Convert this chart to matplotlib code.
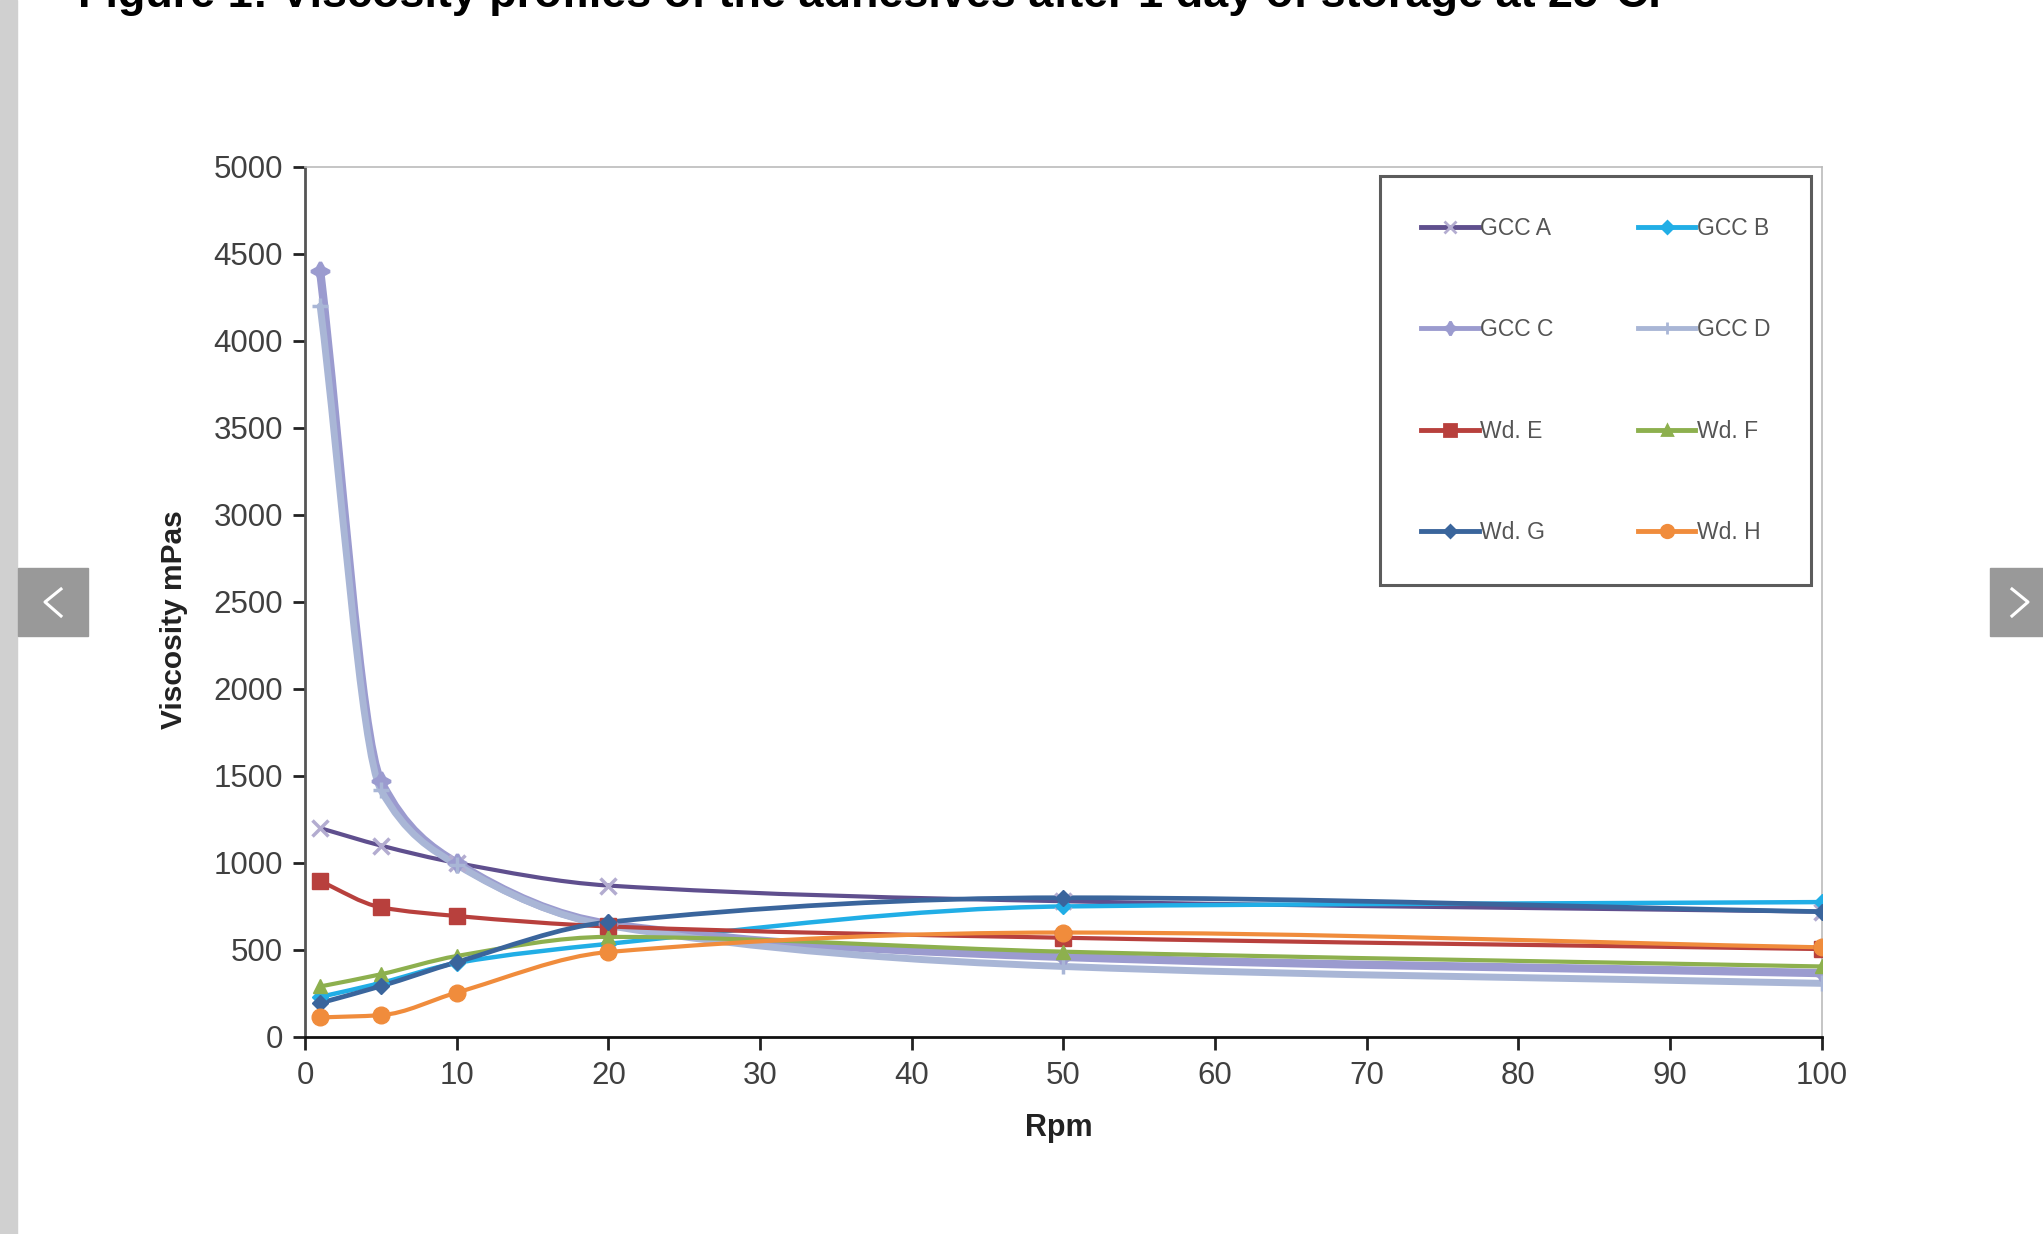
import numpy as np
import matplotlib
matplotlib.use("Agg")
import matplotlib.pyplot as plt
from matplotlib.path import Path
from matplotlib.patches import PathPatch, Rectangle
from matplotlib.lines import Line2D

plt.rcParams['font.family'] = ['Liberation Sans', 'DejaVu Sans']

rpm = [1, 5, 10, 20, 50, 100]
labels = ['GCC A', 'GCC B', 'GCC C', 'GCC D', 'Wd. E', 'Wd. F', 'Wd. G', 'Wd. H']
gcc_a = [1200, 1100, 1000, 870, 780, 720]
gcc_b = [230, 310, 425, 535, 750, 775]
gcc_c = [4400, 1470, 1000, 650, 460, 367]
gcc_d = [4200, 1420, 990, 640, 405, 308]
wd_e = [895, 745, 695, 635, 570, 505]
wd_f = [290, 360, 465, 575, 490, 405]
wd_g = [195, 292, 430, 660, 800, 720]
wd_h = [112, 125, 255, 488, 600, 515]

series = [gcc_a, gcc_b, gcc_c, gcc_d, wd_e, wd_f, wd_g, wd_h]
colors = ['#5f4f8e', '#21aee6', '#9b9bcf', '#a9b6d6', '#b8403d', '#8db04e', '#3a659c', '#f08c3c']
mcolors = ['#b3acd0', '#21aee6', '#9b9bcf', '#a9b6d6', '#b8403d', '#8db04e', '#3a659c', '#f08c3c']
markers = ['x', 'D', (4, 1, 0), '+', 's', '^', 'D', 'o']
msizes = [12, 8, 13, 12, 12, 10, 8, 12]
widths = [3.0, 3.2, 6.0, 5.0, 3.0, 3.0, 3.4, 3.0]


def smooth_path(x, y):
    # monotone cubic (Fritsch-Carlson) turned into bezier segments
    x = np.asarray(x, float)
    y = np.asarray(y, float)
    h = np.diff(x)
    d = np.diff(y) / h
    m = np.zeros(len(x))
    m[0] = d[0]
    m[-1] = d[-1]
    for k in range(1, len(x) - 1):
        if d[k - 1] * d[k] <= 0:
            m[k] = 0
        else:
            w1 = 2 * h[k] + h[k - 1]
            w2 = h[k] + 2 * h[k - 1]
            m[k] = (w1 + w2) / (w1 / d[k - 1] + w2 / d[k])
    verts = [(x[0], y[0])]
    codes = [Path.MOVETO]
    for k in range(len(x) - 1):
        verts += [(x[k] + h[k] / 3, y[k] + m[k] * h[k] / 3),
                  (x[k + 1] - h[k] / 3, y[k + 1] - m[k + 1] * h[k] / 3),
                  (x[k + 1], y[k + 1])]
        codes += [Path.CURVE4] * 3
    return Path(verts, codes)


fig = plt.figure(figsize=(20.43, 12.34), dpi=100)
ax = fig.add_axes([0.1493, 0.1597, 0.7423, 0.7050])

handles = []
for vals, c, mc, mk, ms, lw, lab in zip(series, colors, mcolors, markers, msizes, widths, labels):
    ax.add_patch(PathPatch(smooth_path(rpm, vals), facecolor='none', edgecolor=c, lw=lw,
                           capstyle='round', joinstyle='round', zorder=2))
    ax.plot(rpm, vals, linestyle='none', marker=mk, ms=ms, color=mc, mec=mc,
            mew=2.5 if mk in ('x', '+', (4, 1, 0)) else 1, zorder=3)
    handles.append(Line2D([], [], color=c, lw=3.5, marker=mk, ms=ms * 0.75, mec=mc, mfc=mc, mew=2))

# legend is filled row by row in the reference
order = [0, 2, 4, 6, 1, 3, 5, 7]

ax.set_xlim(0, 100)
ax.set_ylim(0, 5000)
ax.set_xticks(range(0, 101, 10))
ax.set_yticks(range(0, 5001, 500))
ax.tick_params(axis='both', direction='out', length=9, width=2, color='#222222',
               labelsize=22.5, labelcolor='#404040')
ax.tick_params(axis='x', pad=8)
ax.tick_params(axis='y', pad=7)
for s in ['left', 'bottom']:
    ax.spines[s].set_linewidth(2)
ax.spines['left'].set_color('#555555')
ax.spines['bottom'].set_color('#111111')
for s in ['top', 'right']:
    ax.spines[s].set_linewidth(1.2)
    ax.spines[s].set_color('#bbbbbb')

ax.set_xlabel('Rpm', fontsize=22, fontweight='bold', color='#222222')
ax.xaxis.set_label_coords(0.497, -0.087)
ax.set_ylabel('Viscosity mPas', fontsize=21.5, fontweight='bold', color='#222222')
ax.yaxis.set_label_coords(-0.077, 0.48)

leg = ax.legend([handles[i] for i in order], [labels[i] for i in order], ncol=2,
                loc='upper left', bbox_to_anchor=(0.709, 0.99),
                fontsize=16.5, frameon=True, fancybox=False, edgecolor='#333333',
                handlelength=2.5, handletextpad=0.05, labelspacing=3.42,
                columnspacing=3.7, borderpad=1.8, borderaxespad=0)
leg.get_frame().set_linewidth(2.2)
for t in leg.get_texts():
    t.set_color('#555555')

# page elements around the chart
fig.patches.append(Rectangle((0, 0), 17 / 2043, 1, transform=fig.transFigure,
                             color='#d0d0d0', zorder=0))
fig.patches.append(Rectangle((18 / 2043, 1 - 636 / 1234), 70 / 2043, 68 / 1234,
                             transform=fig.transFigure, color='#999999', zorder=5))
fig.patches.append(Rectangle((1990 / 2043, 1 - 636 / 1234), 53 / 2043, 68 / 1234,
                             transform=fig.transFigure, color='#999999', zorder=5))
fig.lines.append(Line2D([61 / 2043, 45 / 2043, 61 / 2043],
                        [1 - 589 / 1234, 1 - 602 / 1234, 1 - 616 / 1234],
                        transform=fig.transFigure, color='white', lw=2.2, zorder=6))
fig.lines.append(Line2D([2012 / 2043, 2028 / 2043, 2012 / 2043],
                        [1 - 589 / 1234, 1 - 602 / 1234, 1 - 616 / 1234],
                        transform=fig.transFigure, color='white', lw=2.2, zorder=6))

title = fig.text(78 / 2043, 1 - 7 / 1234,
                 'Figure 1: Viscosity profiles of the adhesives after 1 day of storage at 25°C.',
                 family=['Liberation Sans Narrow', 'Liberation Sans', 'DejaVu Sans'],
                 fontweight='bold', fontsize=30, va='baseline', ha='left', color='black')
fig.canvas.draw()
w = title.get_window_extent().width
title.set_fontsize(30 * 1587 / w)

fig.savefig('out.png', dpi=100)
